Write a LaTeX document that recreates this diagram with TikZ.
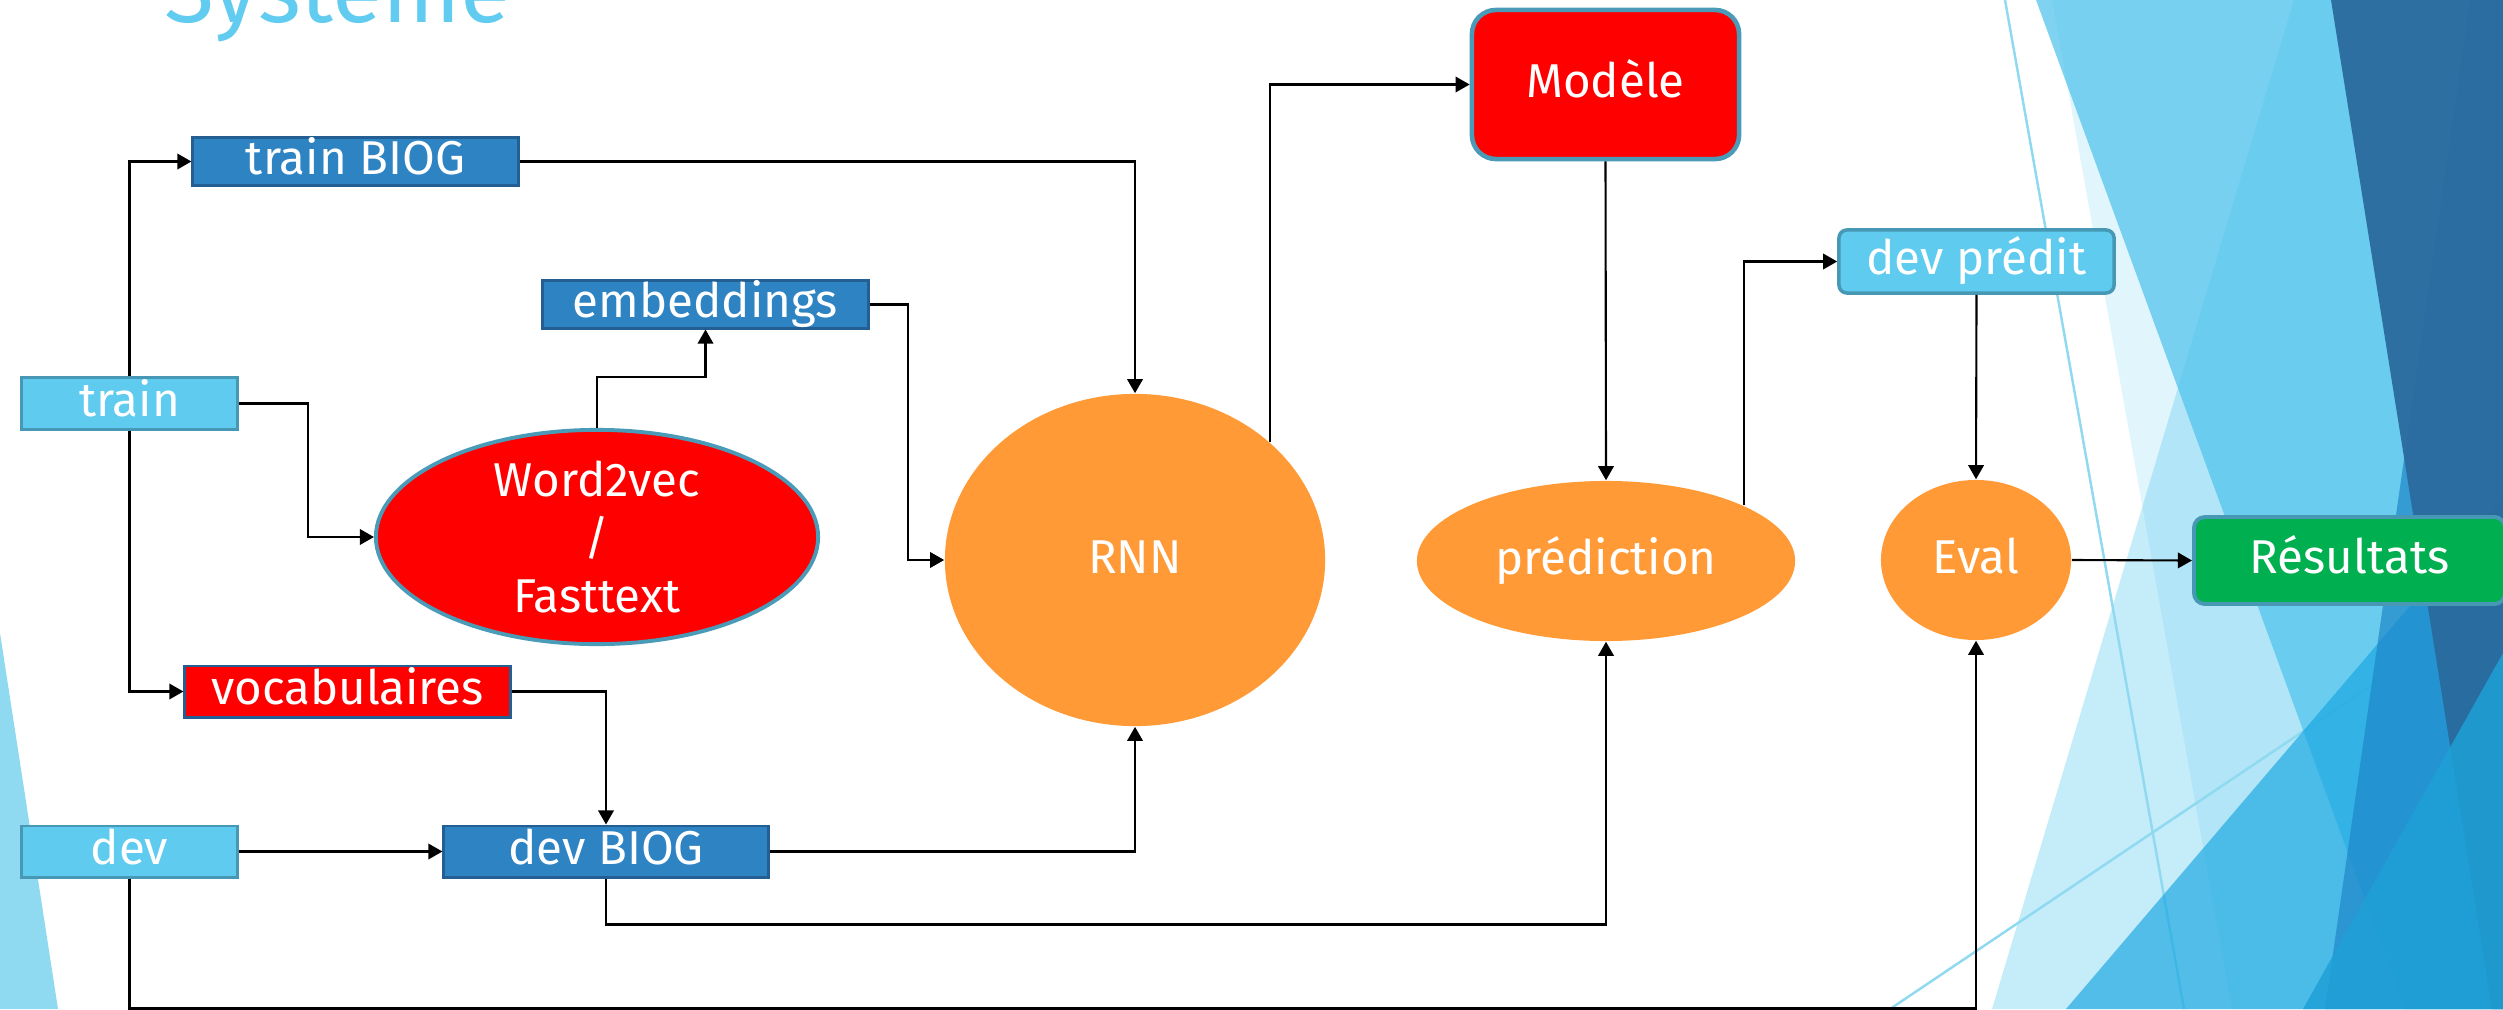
\documentclass[tikz,border=0pt]{standalone}
\usepackage{fontspec}
\setmainfont{Fira Sans}
\usetikzlibrary{shapes.geometric,arrows.meta}

\definecolor{boxdark}{HTML}{2E83C3}
\definecolor{boxdarkrim}{HTML}{245F93}
\definecolor{boxlight}{HTML}{5FCBEF}
\definecolor{boxlightrim}{HTML}{4798B5}
\definecolor{tealrim}{HTML}{4A9BB8}
\definecolor{hotred}{HTML}{FF0000}
\definecolor{amber}{HTML}{FF9A36}
\definecolor{leafgreen}{HTML}{00B050}
\definecolor{titleblue}{HTML}{62CCF0}
\definecolor{facetpale}{HTML}{5BC8EE}
\definecolor{facetsky}{HTML}{50C3EB}
\definecolor{facetcyan}{HTML}{14A5E1}
\definecolor{facetmid}{HTML}{1E87C8}
\definecolor{facetnavy}{HTML}{2A6A9E}
\definecolor{facetdeep}{HTML}{1EA0D7}
\definecolor{glint}{HTML}{8FD9F1}

\tikzset{
  lbl/.style={text=white, font=\fontsize{13.5}{16.4}\selectfont, inner sep=0pt},
  flatbox/.style={lbl, rectangle, line width=0.85pt, text height=0.74em, text depth=0pt},
  darkbox/.style={flatbox, fill=boxdark, draw=boxdarkrim},
  lightbox/.style={flatbox, fill=boxlight, draw=boxlightrim},
  redbox/.style={flatbox, fill=hotred, draw=boxdarkrim},
  blob/.style={lbl, ellipse, fill=amber, text height=0.74em, text depth=0pt},
  link/.style={line width=0.6pt, -{Triangle[length=4pt,width=4.4pt]}},
  glintline/.style={draw=glint, line width=0.7pt}
}

\begin{document}
\begin{tikzpicture}[x=0.01cm, y=-0.01cm]
\useasboundingbox (0,0) rectangle (2503,1009);
\clip (0,0) rectangle (2503,1009);

% ---- slide decoration ----
\fill[glint] (0,633) -- (58,1009) -- (0,1009) -- cycle;
\fill[facetpale, opacity=0.18] (2052,0) -- (2620,0) -- (2620,1009) -- (2232,1009) -- cycle;
\fill[facetpale, opacity=0.354] (2294,0) -- (2620,0) -- (2620,1009) -- (1992,1009) -- cycle;
\draw[glintline] (2005,0) -- (2184,1009);
\draw[glintline] (1890,1009) -- (2503,597);
\fill[facetsky, opacity=0.73] (2036,0) -- (2620,0) -- (2620,1009) -- (2405,1009) -- cycle;
\fill[facetcyan, opacity=0.65] (2066,1009) -- (2503,497) -- (2620,497) -- (2620,1009) -- cycle;
\fill[facetmid, opacity=0.7] (2470,0) -- (2620,0) -- (2620,1009) -- (2325,1009) -- cycle;
\fill[facetnavy, opacity=0.94] (2331,0) -- (2620,0) -- (2620,1009) -- (2492,1009) -- cycle;
\fill[facetdeep, opacity=0.85] (2303,1009) -- (2503,653) -- (2620,653) -- (2620,1009) -- cycle;

% ---- title ----
\node[anchor=base west, inner sep=0pt, text=titleblue, font=\fontsize{26}{30}\selectfont] (title) at (164,22) {Système};

% ---- nodes ----
\node[darkbox, minimum width=3.25cm, minimum height=0.47cm] (trainbiog) at (355.5,161.5) {train BIOG};
\node[darkbox, minimum width=3.25cm, minimum height=0.47cm] (emb) at (705.5,304.5) {embeddings};
\node[lightbox, minimum width=2.15cm, minimum height=0.51cm] (train) at (129.5,403.5) {train};
\node[redbox, minimum width=3.25cm, minimum height=0.51cm] (vocab) at (347.5,691.5) {vocabulaires};
\node[lightbox, minimum width=2.15cm, minimum height=0.51cm] (dev) at (129.5,851.5) {dev};
\node[darkbox, minimum width=3.24cm, minimum height=0.51cm] (devbiog) at (606,851.5) {dev BIOG};

\node[lbl, ellipse, fill=hotred, draw=tealrim, line width=1.1pt, align=center,
      minimum width=4.42cm, minimum height=2.14cm] (w2v) at (597,537) {Word2vec\\/\\Fasttext};
\node[blob, minimum width=3.8cm, minimum height=3.32cm] (rnn) at (1135,560) {RNN};
\node[flatbox, fill=hotred, draw=tealrim, line width=1.3pt, rounded corners=0.24cm,
      minimum width=2.67cm, minimum height=1.49cm] (modele) at (1605.5,84.5) {Modèle};
\node[blob, minimum width=3.78cm, minimum height=1.6cm] (pred) at (1606,561) {prédiction};
\node[flatbox, fill=boxlight, draw=boxlightrim, line width=1pt, rounded corners=0.08cm,
      minimum width=2.75cm, minimum height=0.63cm] (devpred) at (1976.5,261.5) {dev prédit};
\node[blob, minimum width=1.9cm, minimum height=1.6cm] (eval) at (1976,560) {Eval};
\node[flatbox, fill=leafgreen, draw=boxlightrim, line width=1.1pt, rounded corners=0.11cm,
      minimum width=3.11cm, minimum height=0.87cm] (res) at (2349.5,560.5) {Résultats};

% ---- connectors ----
\draw[link] (train.north) |- (trainbiog.west);
\draw[link] (train.south) |- (vocab.west);
\draw[link] (train.east) -- ++(69,0) |- (w2v.west);
\draw[link] (w2v.north) -- ++(0,-51) -| (emb.south);
\draw[link] (emb.east) -- ++(38,0) |- (rnn.west);
\draw[link] (trainbiog.east) -| (rnn.north);
\draw[link] (vocab.east) -| (devbiog.north);
\draw[link] (dev.east) -- (devbiog.west);
\draw[link] (devbiog.east) -| (rnn.south);
\draw[link] (devbiog.south) -- ++(0,46) -| (pred.south);
\draw[link] (dev.south) -- ++(0,130) -| (eval.south);
\draw[link] (rnn.41.6) |- (modele.west);
\draw[link] (modele.south) -- (pred.north);
\draw[link] (pred.22.8) |- (devpred.west);
\draw[link] (devpred.south) -- (eval.north);
\draw[link] (eval.east) -- (res.west);
\end{tikzpicture}
\end{document}
